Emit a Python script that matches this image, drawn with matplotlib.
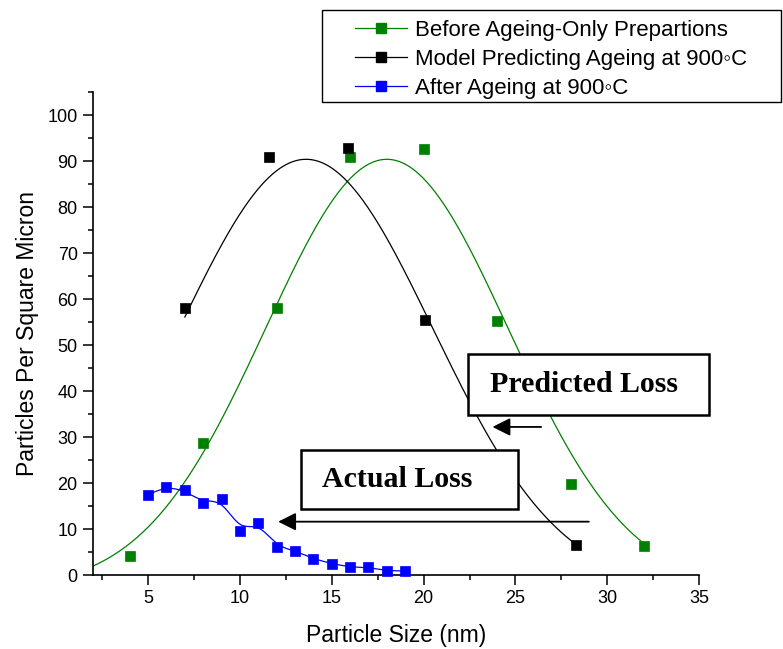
import numpy as np
import matplotlib.pyplot as plt
from matplotlib.lines import Line2D
from matplotlib.patches import Rectangle

plt.rcParams['font.family'] = ['Liberation Sans', 'DejaVu Sans']

# data
size_before = [4, 8, 12, 16, 20, 24, 28, 32]
count_before = [4.1, 28.6, 58.0, 91.0, 92.7, 55.3, 19.8, 6.3]
size_model = [7.0, 11.6, 15.9, 20.1, 28.3]
count_model = [58.0, 91.0, 92.8, 55.4, 6.5]
size_after = [5, 6, 7, 8, 9, 10, 11, 12, 13, 14, 15, 16, 17, 18, 19]
count_after = [17.5, 19.2, 18.4, 15.7, 16.5, 9.6, 11.4, 6.2, 5.3, 3.5, 2.5, 1.7, 1.7, 0.9, 0.9]

# gaussian fit curves as drawn in the picture: y0, A, xc, w
fit_before = [-3.0, 93.4, 18.0, 13.2]
fit_model = [-3.0, 93.4, 13.6, 13.8]
fit_before_range = [2.0, 32.0]
fit_model_range = [7.0, 28.3]

labels = ['Before Ageing-Only Prepartions',
          'Model Predicting Ageing at 900\u25e6C',
          'After Ageing at 900\u25e6C']
colors = ['#008000', '#000000', '#0000ff']


def gauss(x, p):
    y0, A, xc, w = p
    return y0 + A * np.exp(-2 * ((x - xc) / w) ** 2)


# cubic b-spline over the blue points (clamped ends), like Origin's b-spline line
def bspline(px, py, n=30):
    P = np.column_stack([px, py]).astype(float)
    P = np.vstack([P[0], P[0], P, P[-1], P[-1]])
    t = np.linspace(0, 1, n, endpoint=False)
    b0 = (1 - t) ** 3 / 6
    b1 = (3 * t ** 3 - 6 * t ** 2 + 4) / 6
    b2 = (-3 * t ** 3 + 3 * t ** 2 + 3 * t + 1) / 6
    b3 = t ** 3 / 6
    out = []
    for i in range(len(P) - 3):
        seg = (np.outer(b0, P[i]) + np.outer(b1, P[i + 1]) +
               np.outer(b2, P[i + 2]) + np.outer(b3, P[i + 3]))
        out.append(seg)
    out.append(P[-1][None, :])
    out = np.vstack(out)
    return out[:, 0], out[:, 1]


fig = plt.figure(figsize=(7.83, 6.49), dpi=100)
ax = fig.add_axes([0.1188, 0.114, 0.774, 0.744])

xs_b = np.linspace(*fit_before_range, 400)
xs_m = np.linspace(*fit_model_range, 400)
ax.plot(xs_b, gauss(xs_b, fit_before), color=colors[0], lw=0.9, zorder=2)
ax.plot(xs_m, gauss(xs_m, fit_model), color=colors[1], lw=0.9, zorder=2)
bx, by = bspline(size_after, count_after)
ax.plot(bx, by, color=colors[2], lw=0.9, zorder=2)

for xx, yy, c in [(size_before, count_before, colors[0]),
                  (size_model, count_model, colors[1]),
                  (size_after, count_after, colors[2])]:
    ax.plot(xx, yy, ls='none', marker='s', ms=7, mfc=c, mec=c, mew=0.5,
            zorder=3, clip_on=False)

ax.set_xlim(2, 35)
ax.set_ylim(0, 105)
ax.set_xticks(range(5, 36, 5))
ax.set_xticks(np.arange(2.5, 35, 5), minor=True)
ax.set_yticks(range(0, 101, 10))
ax.set_yticks(range(5, 106, 10), minor=True)
ax.spines['top'].set_visible(False)
ax.spines['right'].set_visible(False)
ax.spines['left'].set_linewidth(1.2)
ax.spines['bottom'].set_linewidth(1.2)
ax.tick_params(which='major', direction='out', length=7, width=1.1,
               labelsize=13, pad=4)
ax.tick_params(which='minor', direction='out', length=3.6, width=1.1)
ax.set_xlabel('Particle Size (nm)', fontsize=16.5, labelpad=12)
ax.set_ylabel('Particles Per Square Micron', fontsize=16.5, labelpad=6)

# arrows
ax.annotate('', xy=(23.75, 32.2), xytext=(26.4, 32.2),
            arrowprops=dict(arrowstyle='-|>', color='k', lw=1.3,
                            mutation_scale=27, shrinkA=0, shrinkB=0))
ax.annotate('', xy=(12.08, 11.6), xytext=(29.0, 11.6),
            arrowprops=dict(arrowstyle='-|>', color='k', lw=1.3,
                            mutation_scale=27, shrinkA=0, shrinkB=0))

# text boxes (white filled, cover the curves)
for x0, y0, w, h, tx, txt in [(0.5977, 0.3606, 0.3078, 0.094, 0.6258, 'Predicted Loss'),
                              (0.384, 0.2157, 0.2771, 0.0909, 0.4109, 'Actual Loss')]:
    fig.add_artist(Rectangle((x0, y0), w, h, transform=fig.transFigure,
                             facecolor='white', edgecolor='black', lw=1.8,
                             zorder=5))
    fig.text(tx, y0 + h / 2, txt, family='Liberation Serif', weight='bold',
             fontsize=21.5, va='center', ha='left', zorder=6)

# legend
handles = [Line2D([], [], color=c, lw=0.9, marker='s', ms=7, mfc=c, mec=c)
           for c in colors]
fig.add_artist(Rectangle((0.4112, 0.8433), 0.586, 0.1413,
                         transform=fig.transFigure, facecolor='white',
                         edgecolor='black', lw=1.0, zorder=5))
leg = fig.legend(handles, labels, loc='upper left',
                 bbox_to_anchor=(0.4534, 0.969), frameon=False, fontsize=16,
                 handlelength=2.35, handletextpad=0.35, labelspacing=0.36,
                 borderpad=0, borderaxespad=0)
leg.set_zorder(6)

fig.savefig('out.png', dpi=100)
